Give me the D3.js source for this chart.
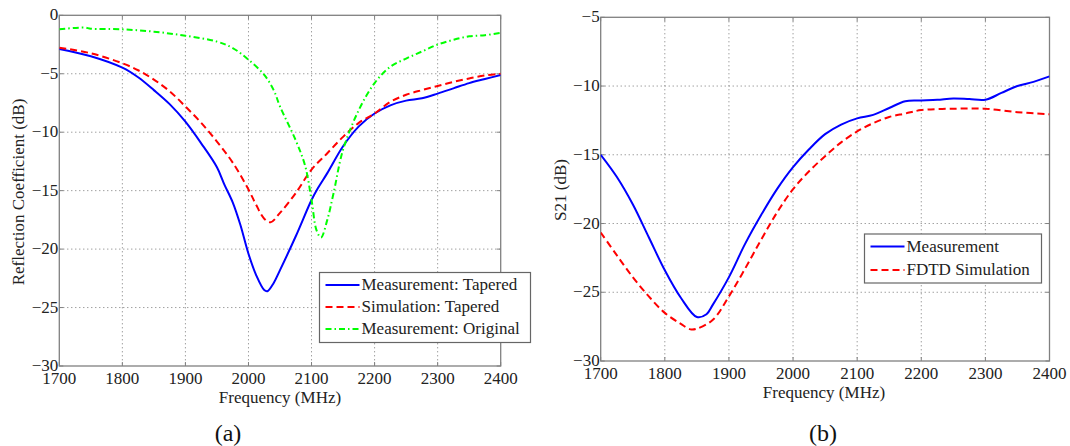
<!DOCTYPE html>
<html>
<head>
<meta charset="utf-8">
<script src="https://cdn.jsdelivr.net/npm/d3@7"></script>
<style>
  body { margin: 0; background: #fff; }
  svg text { font-family: "Liberation Serif", "DejaVu Serif", serif; }
</style>
</head>
<body>
<svg id="fig" width="1070" height="446"></svg>
<script>
// --- Données (a) : coefficient de réflexion
const freqA = [1700, 1750, 1800, 1825, 1850, 1875, 1900, 1925, 1950, 1962, 1975, 1987, 2000, 2012, 2025, 2030, 2040, 2050, 2075, 2100, 2110, 2125, 2150, 2175, 2200, 2225, 2250, 2275, 2300, 2325, 2350, 2375, 2400];
const measTapered = [-2.88, -3.5, -4.48, -5.3, -6.4, -7.6, -9.1, -10.95, -13.0, -14.5, -16.0, -17.9, -20.4, -22.2, -23.5, -23.6, -22.9, -21.8, -18.9, -15.8, -14.8, -13.5, -11.2, -9.5, -8.4, -7.7, -7.3, -7.1, -6.7, -6.25, -5.8, -5.45, -5.1];

const freqSimA = [1700, 1750, 1800, 1825, 1850, 1875, 1900, 1925, 1950, 1975, 2000, 2012, 2025, 2035, 2050, 2075, 2100, 2125, 2150, 2175, 2200, 2225, 2250, 2275, 2300, 2325, 2350, 2375, 2400];
const simTapered = [-2.77, -3.25, -4.1, -4.7, -5.5, -6.5, -7.8, -9.2, -10.8, -12.6, -14.9, -16.2, -17.4, -17.7, -16.9, -15.2, -13.2, -11.8, -10.4, -9.2, -8.4, -7.4, -6.8, -6.4, -6.05, -5.7, -5.4, -5.15, -5.0];

const freqOrig = [1700, 1740, 1750, 1800, 1850, 1900, 1950, 1975, 2000, 2025, 2040, 2050, 2075, 2090, 2100, 2108, 2115, 2125, 2135, 2150, 2175, 2200, 2225, 2250, 2275, 2300, 2325, 2350, 2375, 2400];
const measOriginal = [-1.2, -1.05, -1.15, -1.2, -1.4, -1.75, -2.25, -2.8, -3.8, -5.1, -6.4, -7.8, -10.7, -12.9, -15.8, -18.4, -19.0, -17.5, -15.2, -11.5, -8.1, -5.8, -4.4, -3.7, -3.1, -2.5, -2.1, -1.8, -1.7, -1.5];

// --- Données (b) : S21
const freqB = [1700, 1725, 1750, 1775, 1800, 1825, 1850, 1865, 1875, 1900, 1925, 1950, 1975, 2000, 2025, 2050, 2075, 2100, 2125, 2150, 2175, 2200, 2225, 2250, 2275, 2300, 2325, 2350, 2375, 2400];
const s21Meas = [-15.0, -16.6, -18.6, -21.0, -23.4, -25.4, -26.8, -26.6, -25.9, -23.9, -21.5, -19.4, -17.5, -15.9, -14.6, -13.5, -12.8, -12.35, -12.1, -11.6, -11.1, -11.05, -11.0, -10.9, -10.95, -11.0, -10.5, -10.0, -9.7, -9.3];

const freqFdtd = [1700, 1725, 1750, 1775, 1800, 1825, 1840, 1850, 1875, 1900, 1925, 1950, 1975, 2000, 2025, 2050, 2075, 2100, 2125, 2150, 2175, 2200, 2250, 2300, 2350, 2400];
const s21Fdtd = [-20.65, -22.3, -23.9, -25.3, -26.5, -27.3, -27.7, -27.65, -27.0, -25.3, -23.3, -21.2, -19.2, -17.5, -16.2, -15.1, -14.1, -13.3, -12.7, -12.25, -12.0, -11.75, -11.65, -11.65, -11.9, -12.05];

// --- Graduations
const freqTicks = [1700, 1800, 1900, 2000, 2100, 2200, 2300, 2400];
const ticksA = [0, -5, -10, -15, -20, -25, -30];
const ticksB = [-5, -10, -15, -20, -25, -30];

const FONT = "Liberation Serif, DejaVu Serif, serif";
const FS = 17;
const svg = d3.select("#fig");
const fmt = (v) => String(v).replace("-", "\u2212");

function drawPanel(p) {
  const x = d3.scaleLinear().domain([1700, 2400]).range([p.left, p.right]);
  const y = d3.scaleLinear().domain(p.yDomain).range([p.top, p.bottom]);
  const g = svg.append("g").attr("font-family", FONT);

  // grille pointillée
  g.selectAll(".vg").data(freqTicks.slice(1, -1)).join("line")
    .attr("x1", d => x(d)).attr("x2", d => x(d))
    .attr("y1", p.top).attr("y2", p.bottom)
    .attr("stroke", "#777").attr("stroke-width", 1).attr("stroke-dasharray", "1,3");
  g.selectAll(".hg").data(p.yTicks.filter(d => d !== p.yDomain[0] && d !== p.yDomain[1])).join("line")
    .attr("x1", p.left).attr("x2", p.right)
    .attr("y1", d => y(d)).attr("y2", d => y(d))
    .attr("stroke", "#777").attr("stroke-width", 1).attr("stroke-dasharray", "1,3");

  // cadre + petites graduations internes
  g.append("rect")
    .attr("x", p.left).attr("y", p.top)
    .attr("width", p.right - p.left).attr("height", p.bottom - p.top)
    .attr("fill", "none").attr("stroke", "#808080").attr("stroke-width", 1.3);
  freqTicks.forEach(t => {
    g.append("line").attr("x1", x(t)).attr("x2", x(t)).attr("y1", p.bottom).attr("y2", p.bottom - 4).attr("stroke", "#808080");
    g.append("line").attr("x1", x(t)).attr("x2", x(t)).attr("y1", p.top).attr("y2", p.top + 4).attr("stroke", "#808080");
  });
  p.yTicks.forEach(t => {
    g.append("line").attr("x1", p.left).attr("x2", p.left + 4).attr("y1", y(t)).attr("y2", y(t)).attr("stroke", "#808080");
    g.append("line").attr("x1", p.right).attr("x2", p.right - 4).attr("y1", y(t)).attr("y2", y(t)).attr("stroke", "#808080");
  });

  // étiquettes des graduations
  g.selectAll(".xl").data(freqTicks).join("text")
    .attr("x", d => x(d)).attr("y", p.bottom + 18)
    .attr("text-anchor", "middle").attr("font-size", FS).attr("fill", "#222")
    .text(d => d);
  g.selectAll(".yl").data(p.yTicks).join("text")
    .attr("x", p.left - 1).attr("y", d => y(d) + 5)
    .attr("text-anchor", "end").attr("font-size", FS).attr("fill", "#222")
    .text(fmt);

  // titres des axes
  g.append("text").attr("x", p.xLabelX).attr("y", p.bottom + 37)
    .attr("text-anchor", "middle").attr("font-size", FS).attr("fill", "#222")
    .text("Frequency (MHz)");
  g.append("text")
    .attr("transform", `translate(${p.yLabelX},${p.yLabelY}) rotate(-90)`)
    .attr("text-anchor", "middle").attr("font-size", FS).attr("fill", "#222")
    .text(p.yLabel);
  g.append("text").attr("x", p.tagX).attr("y", 441)
    .attr("text-anchor", "middle").attr("font-size", 24).attr("fill", "#111")
    .text(p.tag);

  // courbes
  const line = d3.line().x(d => x(d[0])).y(d => y(d[1])).curve(d3.curveCatmullRom.alpha(0.5));
  const clip = "clip" + p.tag.replace(/\W/g, "");
  svg.append("clipPath").attr("id", clip).append("rect")
    .attr("x", p.left).attr("y", p.top).attr("width", p.right - p.left).attr("height", p.bottom - p.top);
  p.series.forEach(s => {
    g.append("path")
      .datum(d3.zip(s.x, s.y))
      .attr("clip-path", `url(#${clip})`)
      .attr("fill", "none").attr("stroke", s.color).attr("stroke-width", 2)
      .attr("stroke-dasharray", s.dash).attr("d", line);
  });

  // légende
  const L = p.legend;
  g.append("rect").attr("x", L.x).attr("y", L.y).attr("width", L.w).attr("height", L.h)
    .attr("fill", "#fff").attr("stroke", "#666").attr("stroke-width", 1.2);
  p.series.forEach((s, i) => {
    const ly = L.y + L.first + i * L.step;
    g.append("line").attr("x1", L.x + 6).attr("x2", L.x + 40).attr("y1", ly).attr("y2", ly)
      .attr("stroke", s.color).attr("stroke-width", 2).attr("stroke-dasharray", s.dash);
    g.append("text").attr("x", L.x + 42).attr("y", ly + 5)
      .attr("font-size", FS).attr("fill", "#222").text(s.name);
  });
}

drawPanel({
  left: 59.3, right: 500.7, top: 15.3, bottom: 366,
  yDomain: [0, -30], yTicks: ticksA,
  yLabel: "Reflection Coefficient (dB)", yLabelX: 24, yLabelY: 192,
  xLabelX: 280, tag: "(a)", tagX: 228,
  legend: { x: 319.5, y: 272.5, w: 211, h: 70, first: 12.5, step: 22 },
  series: [
    { name: "Measurement: Tapered", x: freqA, y: measTapered, color: "#0000ff", dash: null },
    { name: "Simulation: Tapered", x: freqSimA, y: simTapered, color: "#ff0000", dash: "7,4" },
    { name: "Measurement: Original", x: freqOrig, y: measOriginal, color: "#00ff00", dash: "6,3,1.5,3" }
  ]
});

drawPanel({
  left: 600.7, right: 1049.5, top: 17.3, bottom: 361,
  yDomain: [-5, -30], yTicks: ticksB,
  yLabel: "S21 (dB)", yLabelX: 566, yLabelY: 190,
  xLabelX: 824, tag: "(b)", tagX: 823,
  legend: { x: 864.5, y: 234, w: 177, h: 49, first: 12.5, step: 23.5 },
  series: [
    { name: "Measurement", x: freqB, y: s21Meas, color: "#0000ff", dash: null },
    { name: "FDTD Simulation", x: freqFdtd, y: s21Fdtd, color: "#ff0000", dash: "7,4" }
  ]
});
</script>
</body>
</html>
